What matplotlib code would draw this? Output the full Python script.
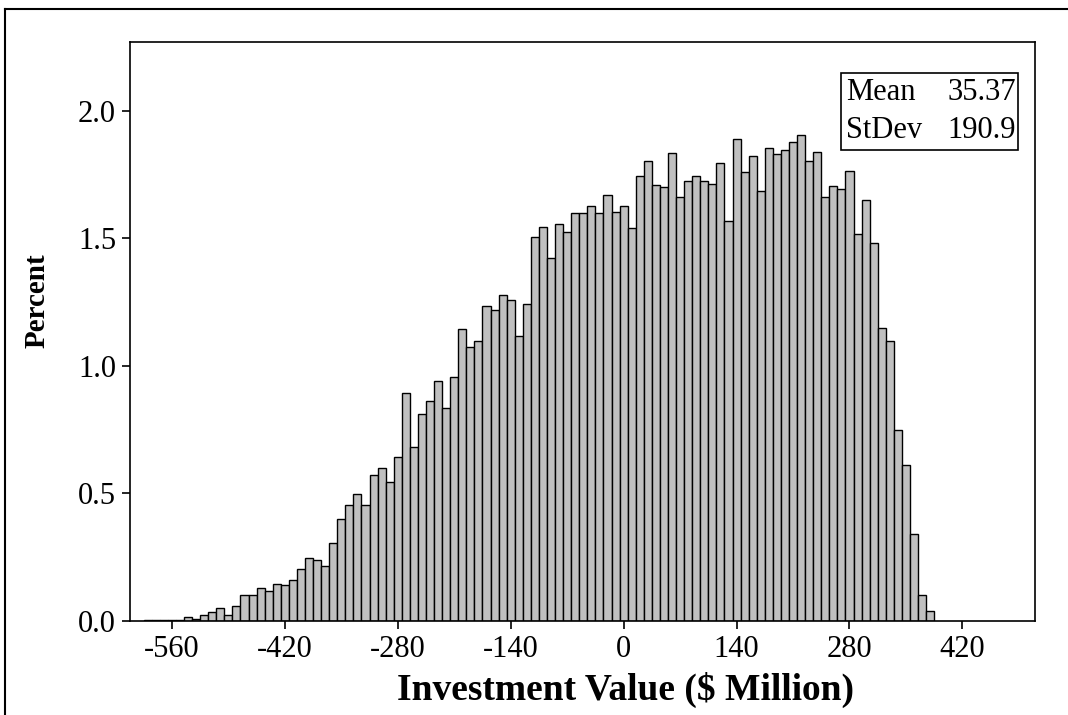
import numpy as np
import matplotlib
matplotlib.use('Agg')
import matplotlib.pyplot as plt
from matplotlib.patches import Rectangle
from matplotlib.lines import Line2D

plt.rcParams['font.family'] = ['Liberation Serif', 'DejaVu Serif']

# bin midpoints ($ Million), bin width 10
midpoints = list(range(-590, 390, 10))
percent = [
    0.005, 0.005, 0.005, 0.005, 0.005, 0.016, 0.008, 0.024, 0.037, 0.051,
    0.022, 0.059, 0.103, 0.103, 0.131, 0.116, 0.146, 0.140, 0.161, 0.204,
    0.246, 0.238, 0.217, 0.305, 0.399, 0.455, 0.498, 0.455, 0.573, 0.601,
    0.544, 0.644, 0.893, 0.681, 0.813, 0.864, 0.942, 0.834, 0.958, 1.146,
    1.073, 1.097, 1.235, 1.220, 1.278, 1.258, 1.118, 1.243, 1.505, 1.546,
    1.424, 1.556, 1.525, 1.599, 1.599, 1.627, 1.599, 1.671, 1.605, 1.627,
    1.542, 1.745, 1.803, 1.708, 1.700, 1.833, 1.664, 1.723, 1.745, 1.723,
    1.715, 1.797, 1.570, 1.890, 1.761, 1.824, 1.687, 1.853, 1.832, 1.847,
    1.876, 1.905, 1.803, 1.839, 1.664, 1.707, 1.693, 1.765, 1.518, 1.651,
    1.482, 1.148, 1.097, 0.747, 0.610, 0.340, 0.100, 0.040,
]
x_ticks = [-560, -420, -280, -140, 0, 140, 280, 420]
y_ticks = [0.0, 0.5, 1.0, 1.5, 2.0]
stats_names = ['Mean', 'StDev']
stats_values = ['35.37', '190.9']

fig = plt.figure(figsize=(10.68, 7.15), dpi=100)
ax = fig.add_axes([0.1217, 0.1315, 0.8474, 0.8098])

ax.bar(midpoints, percent, width=10, color='#c0c0c0', edgecolor='black', linewidth=1.0)

ax.set_xlim(-612, 510)
ax.set_ylim(0, 2.27)
ax.set_xticks(x_ticks)
ax.set_xticklabels([str(v) for v in x_ticks])
ax.set_yticks(y_ticks)
ax.set_yticklabels([f'{v:.1f}' for v in y_ticks])
ax.tick_params(direction='out', length=6, width=1.2, labelsize=22, pad=4)
for s in ax.spines.values():
    s.set_linewidth(1.2)

ax.set_xlabel('Investment Value ($ Million)', fontsize=27, fontweight='bold', va='center')
ax.set_ylabel('Percent', fontsize=21, fontweight='bold')
ax.xaxis.set_label_coords(0.547, -0.119)
ax.yaxis.set_label_coords(-0.088, 0.554)

# stats box
ax.add_patch(Rectangle((0.786, 0.813), 0.195, 0.133, transform=ax.transAxes,
                       facecolor='white', edgecolor='black', linewidth=1.2, zorder=5))
for i, (n, v) in enumerate(zip(stats_names, stats_values)):
    yy = 0.913 - i * 0.066
    ax.text(0.791, yy, n, transform=ax.transAxes, fontsize=22, ha='left', va='center', zorder=6)
    ax.text(0.979, yy, v, transform=ax.transAxes, fontsize=22, ha='right', va='center', zorder=6)

# outer frame
fig.add_artist(Line2D([5 / 1068, 1], [1 - 9 / 715, 1 - 9 / 715], color='black', linewidth=1.5))
fig.add_artist(Line2D([5 / 1068, 5 / 1068], [0, 1 - 9 / 715], color='black', linewidth=1.5))

fig.savefig('out.png', dpi=100)
